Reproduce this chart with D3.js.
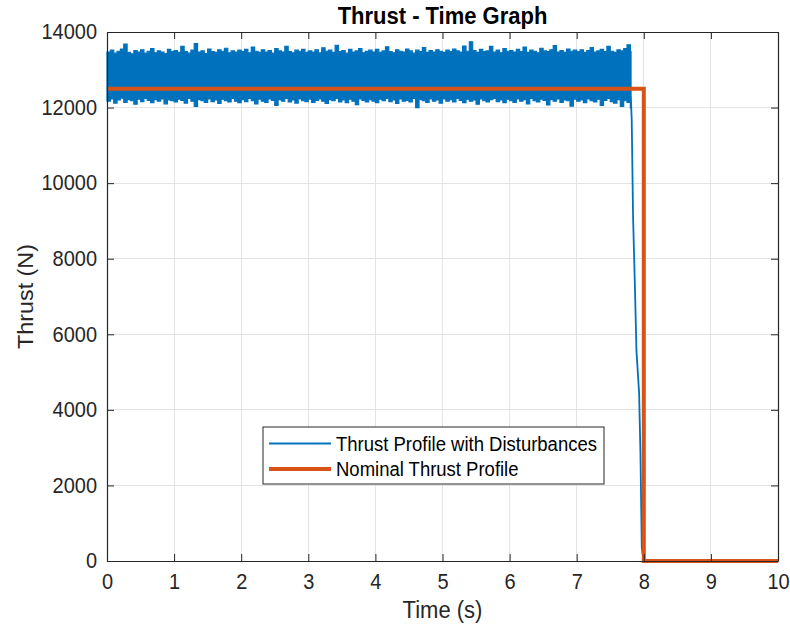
<!DOCTYPE html>
<html>
<head>
<meta charset="utf-8">
<script src="https://cdn.jsdelivr.net/npm/d3@7"></script>
<style>
  html, body { margin: 0; padding: 0; background: #fff; }
  svg { display: block; font-family: "Liberation Sans", Arial, Helvetica, sans-serif; }
  /* slightly tall lettering, as in the exported figure */
  text.tall { transform-box: fill-box; transform-origin: center; transform: scaleY(1.06); }
  text.tall-rot { transform-box: fill-box; transform-origin: center; transform: scaleX(1.06); }
</style>
</head>
<body>
<svg id="chart" width="790" height="630"></svg>
<script>
// ---- Data ----------------------------------------------------------------
const xTicks = [0, 1, 2, 3, 4, 5, 6, 7, 8, 9, 10];
const yTicks = [0, 2000, 4000, 6000, 8000, 10000, 12000, 14000];

// Disturbed thrust: per-window envelope (N), one window every 0.05 s from t = 0
const envelopeStart = 0;
const envelopeStep = 0.05;
const thrustUpper = [
  13470, 13520, 13440, 13490, 13550, 13680, 13460, 13420, 13510, 13470, 13530, 13440, 13490, 13560, 13450, 13500, 13470, 13430, 13540, 13480,
  13510, 13460, 13620, 13480, 13440, 13520, 13690, 13470, 13500, 13430, 13550, 13480, 13460, 13530, 13490, 13570, 13450, 13500, 13470, 13520,
  13480, 13540, 13450, 13600, 13490, 13460, 13530, 13470, 13510, 13440, 13560, 13500, 13470, 13620, 13480, 13450, 13520, 13490, 13540, 13460,
  13500, 13470, 13530, 13450, 13580, 13490, 13520, 13460, 13650, 13480, 13510, 13440, 13540, 13470, 13500, 13560, 13450, 13490, 13520, 13470,
  13540, 13460, 13500, 13610, 13480, 13450, 13530, 13490, 13470, 13550, 13500, 13440, 13520, 13480, 13590, 13460, 13510, 13470, 13530, 13490,
  13460, 13520, 13480, 13550, 13500, 13470, 13630, 13490, 13740, 13510, 13460, 13540, 13480, 13500, 13620, 13470, 13520, 13450, 13560, 13490,
  13510, 13470, 13540, 13480, 13600, 13460, 13520, 13490, 13450, 13570, 13500, 13480, 13530, 13640, 13470, 13510, 13460, 13550, 13490, 13520,
  13480, 13530, 13460, 13510, 13590, 13470, 13500, 13540, 13480, 13620, 13490, 13460, 13530, 13500, 13560, 13660, 13480
];
const thrustLower = [
  12170, 12230, 12120, 12200, 12250, 12140, 12210, 12180, 12090, 12220, 12160, 12240, 12190, 12130, 12210, 12170, 12230, 12100, 12200, 12180,
  12150, 12220, 12190, 12120, 12240, 12170, 12030, 12210, 12180, 12140, 12230, 12160, 12200, 12110, 12220, 12180, 12150, 12240, 12170, 12130,
  12210, 12160, 12240, 12180, 12100, 12220, 12170, 12140, 12230, 12190, 12060, 12210, 12170, 12240, 12150, 12200, 12120, 12230, 12180, 12160,
  12220, 12140, 12190, 12230, 12170, 12110, 12210, 12180, 12240, 12150, 12200, 12130, 12220, 12170, 12080, 12230, 12190, 12150, 12210, 12170,
  12130, 12220, 12180, 12240, 12160, 12200, 12110, 12230, 12170, 12190, 12150, 12240, 12000, 12210, 12180, 12140, 12230, 12170, 12200, 12120,
  12230, 12170, 12210, 12150, 12240, 12190, 12130, 12220, 12170, 12200, 12090, 12230, 12180, 12150, 12210, 12240, 12160, 12200, 12130, 12220,
  12180, 12140, 12230, 12170, 12210, 12100, 12240, 12180, 12150, 12220, 12190, 12070, 12210, 12170, 12230, 12140, 12200, 12180, 12040, 12220,
  12170, 12200, 12130, 12230, 12180, 12150, 12220, 12060, 12190, 12240, 12160, 12120, 12210, 12030, 12180, 12140, 11990
];

// Disturbed thrust during burnout (s, N)
const burnoutTime  = [7.80, 7.81, 7.82, 7.84, 7.87, 7.89, 7.93, 7.95, 7.97, 8.00, 10.00];
const burnoutValue = [12300, 12120, 11670, 9110, 7090, 5580, 4450, 2860, 344, 0, 0];

// Nominal thrust profile (s, N)
const nominalTime  = [0, 8, 8, 10];
const nominalValue = [12500, 12500, 0, 0];

const seriesNames = ["Thrust Profile with Disturbances", "Nominal Thrust Profile"];
const seriesColors = ["#0072BD", "#D95319"];

// ---- Layout --------------------------------------------------------------
const svg = d3.select("#chart");
const margin = { left: 107, top: 32, right: 790 - 778, bottom: 630 - 561 };
const W = 790 - margin.left - margin.right;
const H = 630 - margin.top - margin.bottom;
const axisColor = "#262626";

const x = d3.scaleLinear().domain([0, 10]).range([0, W]);
const y = d3.scaleLinear().domain([0, 14000]).range([H, 0]);

const g = svg.append("g").attr("transform", `translate(${margin.left},${margin.top})`);

// Grid
const grid = g.append("g").attr("class", "grid");
grid.selectAll("line.vx").data(xTicks).join("line")
  .attr("x1", d => x(d)).attr("x2", d => x(d)).attr("y1", 0).attr("y2", H)
  .attr("stroke", "#e3e3e3").attr("stroke-width", 1).attr("shape-rendering", "crispEdges");
grid.selectAll("line.hy").data(yTicks).join("line")
  .attr("x1", 0).attr("x2", W).attr("y1", d => y(d)).attr("y2", d => y(d))
  .attr("stroke", "#e3e3e3").attr("stroke-width", 1).attr("shape-rendering", "crispEdges");

// Disturbed thrust band
const band = thrustUpper.map((u, i) => ({
  t: +(envelopeStart + i * envelopeStep).toFixed(3), hi: u, lo: thrustLower[i]
}));
// close last window at the start of the burnout trace
band.push({ t: burnoutTime[1], hi: thrustUpper[thrustUpper.length - 1], lo: thrustLower[thrustLower.length - 1] });

const area = d3.area()
  .x(d => x(d.t)).y0(d => y(d.lo)).y1(d => y(d.hi))
  .curve(d3.curveStepAfter);
g.append("path").datum(band)
  .attr("d", area)
  .attr("fill", seriesColors[0])
  .attr("stroke", seriesColors[0]).attr("stroke-width", 1.2).attr("stroke-linejoin", "miter");

const burnout = burnoutTime.map((t, i) => ({ t, v: burnoutValue[i] }));
const line = d3.line().x(d => x(d.t)).y(d => y(d.v));
g.append("path").datum(burnout)
  .attr("d", line).attr("fill", "none")
  .attr("stroke", seriesColors[0]).attr("stroke-width", 1.8);

// Nominal profile
const nominal = nominalTime.map((t, i) => ({ t, v: nominalValue[i] }));
g.append("path").datum(nominal)
  .attr("d", line).attr("fill", "none")
  .attr("stroke", seriesColors[1]).attr("stroke-width", 4)
  .attr("stroke-linejoin", "miter");

// Axes (box with inward ticks on all sides)
const tickLen = 7;
const xBottom = d3.axisBottom(x).tickValues(xTicks).tickSizeInner(-tickLen).tickSizeOuter(0).tickPadding(13).tickFormat(d3.format("d"));
const xTop = d3.axisTop(x).tickValues(xTicks).tickSizeInner(-tickLen).tickSizeOuter(0).tickFormat("");
const yLeft = d3.axisLeft(y).tickValues(yTicks).tickSizeInner(-tickLen).tickSizeOuter(0).tickPadding(10).tickFormat(d3.format("d"));
const yRight = d3.axisRight(y).tickValues(yTicks).tickSizeInner(-tickLen).tickSizeOuter(0).tickFormat("");

function styleAxis(sel) {
  sel.select(".domain").attr("stroke", axisColor).attr("stroke-width", 1.2);
  sel.selectAll(".tick line").attr("stroke", axisColor).attr("stroke-width", 1);
  sel.selectAll(".tick text").attr("fill", axisColor).attr("font-size", 20)
    .attr("class", "tall")
    .attr("font-family", "Liberation Sans, Arial, sans-serif");
}
g.append("g").attr("transform", `translate(0,${H})`).call(xBottom).call(styleAxis);
g.append("g").call(xTop).call(styleAxis);
g.append("g").call(yLeft).call(styleAxis);
g.append("g").attr("transform", `translate(${W},0)`).call(yRight).call(styleAxis);

// Titles
svg.append("text").attr("class", "tall")
  .attr("x", margin.left + W / 2).attr("y", 23.5)
  .attr("text-anchor", "middle").attr("font-size", 22).attr("font-weight", "bold")
  .attr("fill", "#000").text("Thrust - Time Graph");
svg.append("text").attr("class", "tall")
  .attr("x", margin.left + W / 2).attr("y", 618)
  .attr("text-anchor", "middle").attr("font-size", 22)
  .attr("fill", axisColor).text("Time (s)");
svg.append("g")
  .attr("transform", `translate(33,${margin.top + H / 2}) rotate(-90)`)
  .append("text").attr("class", "tall-rot")
  .attr("text-anchor", "middle").attr("font-size", 22)
  .attr("fill", axisColor).text("Thrust (N)");

// Legend
const legend = svg.append("g").attr("transform", "translate(263,427)");
legend.append("rect").attr("width", 341).attr("height", 57)
  .attr("fill", "#fff").attr("stroke", axisColor).attr("stroke-width", 1);
const rows = legend.selectAll("g.row").data(seriesNames).join("g")
  .attr("transform", (d, i) => `translate(0,${16.5 + i * 25.5})`);
rows.append("line").attr("x1", 6).attr("x2", 68).attr("y1", 0).attr("y2", 0)
  .attr("stroke", (d, i) => seriesColors[i]).attr("stroke-width", (d, i) => i ? 4 : 1.8);
rows.append("text").attr("class", "tall").attr("x", 73).attr("y", 6.8)
  .attr("font-size", 18.5).attr("fill", "#000").text(d => d);
</script>
</body>
</html>
